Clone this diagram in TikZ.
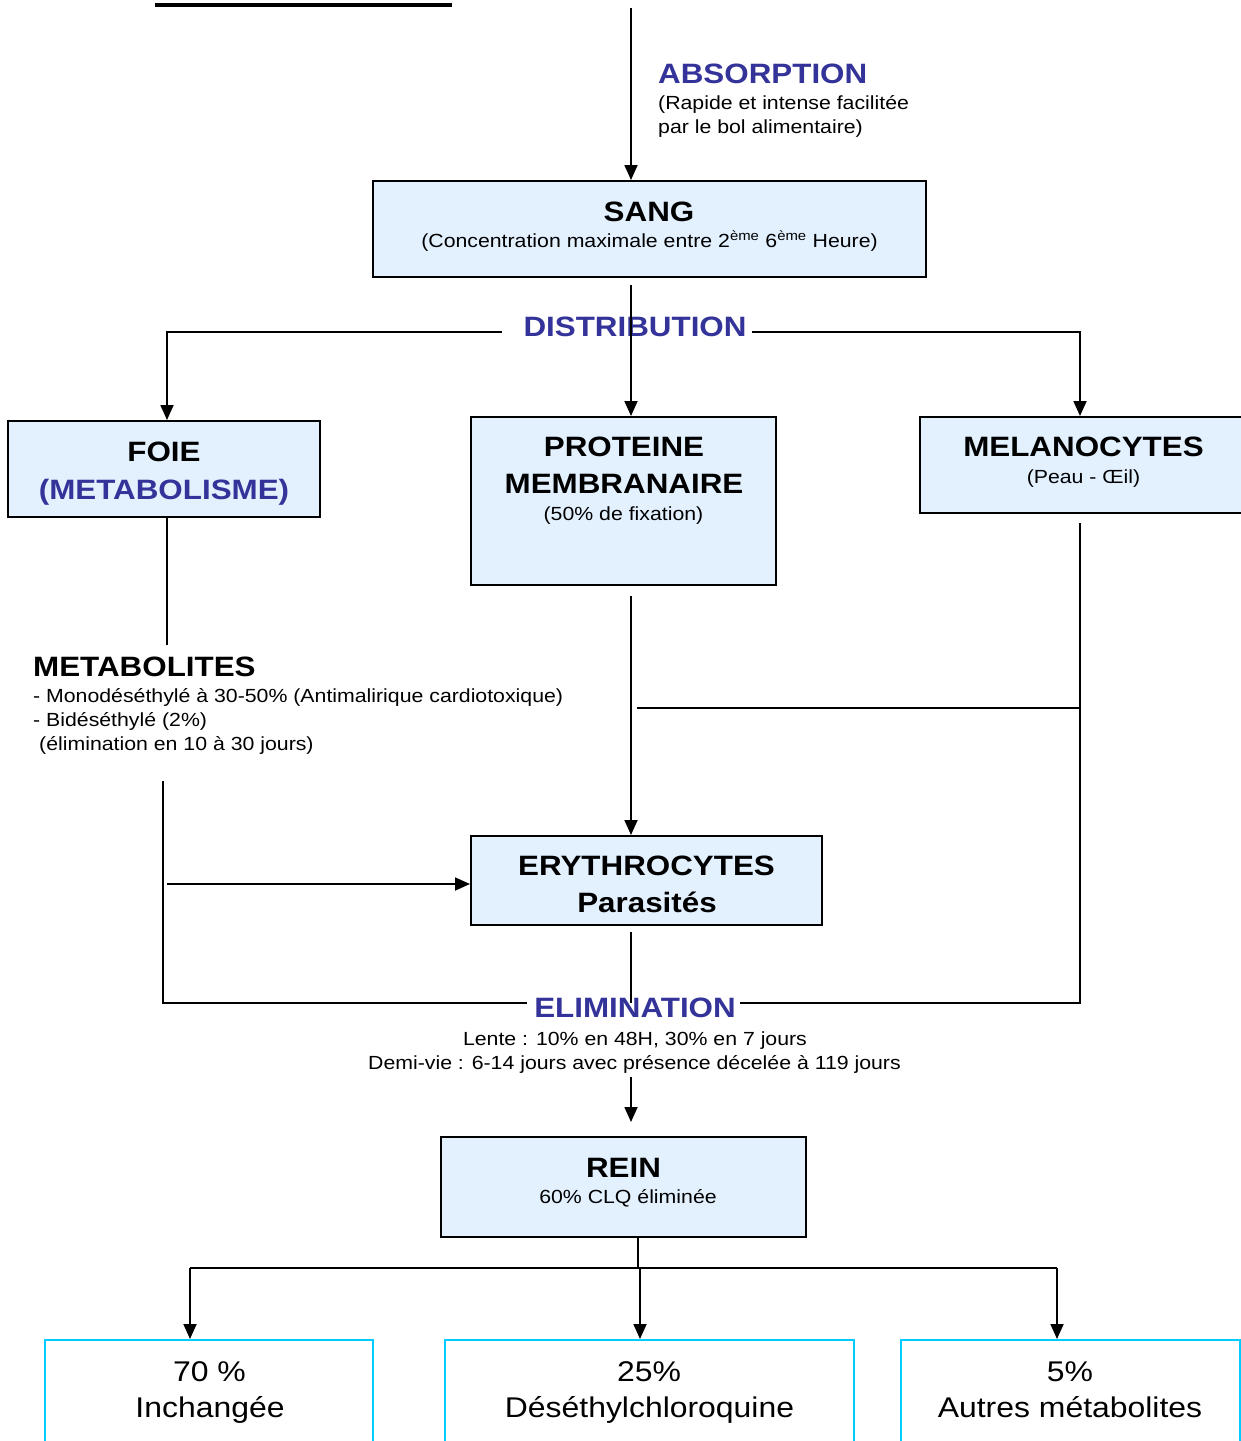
\documentclass[tikz,border=0pt]{standalone}
\usepackage{fontspec}
\setmainfont{Liberation Sans}[FakeStretch=1.12]
\usepackage{tikz}
\usetikzlibrary{arrows.meta, calc}

\definecolor{bleutitre}{RGB}{51,51,153}
\definecolor{fondbleu}{RGB}{227,241,255}
\definecolor{bordcyan}{RGB}{0,204,255}

\tikzset{
  titre/.style={font=\fontsize{28}{32}\selectfont\bfseries, inner sep=0pt, anchor=base},
  titrebleu/.style={titre, text=bleutitre},
  petit/.style={font=\fontsize{19}{23}\selectfont, inner sep=0pt, anchor=base},
  grand/.style={font=\fontsize{28.5}{32}\selectfont, inner sep=0pt, anchor=base},
  boite/.style={draw, line width=2pt, fill=fondbleu, inner sep=0pt},
  boitecyan/.style={draw=bordcyan, line width=2pt, fill=white, inner sep=0pt},
  trait/.style={line width=1.8pt},
  fleche/.style={trait, -{Triangle[length=15pt,width=13pt]}}
}

\begin{document}
\begin{tikzpicture}[x=1pt, y=-1pt]
    \useasboundingbox (0,0) rectangle (1241,1441);
    \clip (0,0) rectangle (1241,1441);

    % boites
    \node[boite, minimum width=553pt, minimum height=96pt] (sang) at (649.5,229) {};
    \node[boite, minimum width=312pt, minimum height=96pt] (foie) at (164,469) {};
    \node[boite, minimum width=305pt, minimum height=168pt] (proteine) at (623.5,501) {};
    \node[boite, minimum width=328pt, minimum height=96pt] (melano) at (1084,465) {};
    \node[boite, minimum width=351pt, minimum height=89pt] (erythro) at (646.5,880.5) {};
    \node[boite, minimum width=365pt, minimum height=100pt] (rein) at (623.5,1187) {};
    \node[boitecyan, minimum width=328pt, minimum height=120pt] (inchangee) at (209,1400) {};
    \node[boitecyan, minimum width=409pt, minimum height=120pt] (deseth) at (649.5,1400) {};
    \node[boitecyan, minimum width=339pt, minimum height=120pt] (autres) at (1070.5,1400) {};

    % colonnes des traits
    \coordinate (haut) at (631,8);
    \coordinate (distG) at (502,332);
    \coordinate (distD) at (752,332);
    \coordinate (colG) at (167,332);
    \coordinate (colM) at (631,332);
    \coordinate (colD) at (1080,332);
    \coordinate (elimG) at (527,1003);
    \coordinate (elimD) at (740,1003);
    \coordinate (renvoi) at (167,884);
    \coordinate (partage) at (638,1268);
    \coordinate (partG) at (190,1268);
    \coordinate (partM) at (640,1268);
    \coordinate (partD) at (1057,1268);

    % textes
    \draw[line width=3.5pt] (155,5) -- (452,5);
    \node[titrebleu, anchor=base west] (absorption) at (658,83) {ABSORPTION};
    \node[petit, anchor=base west] (abs1) at (658,109) {(Rapide et intense facilitée};
    \node[petit, anchor=base west] (abs2) at (658,133) {par le bol alimentaire)};

    \node[titre] (sangT) at (649,221) {SANG};
    \node[petit] (sangS) at (649.5,247) {(Concentration maximale entre 2\textsuperscript{ème} 6\textsuperscript{ème} Heure)};

    \node[titrebleu] (distribution) at (635,336) {DISTRIBUTION};

    \node[titre] (foieT) at (164,461) {FOIE};
    \node[titrebleu] (foieS) at (164,499) {(METABOLISME)};

    \node[titre] (protT) at (624,456) {PROTEINE};
    \node[titre] (protM) at (624,493) {MEMBRANAIRE};
    \node[petit] (protS) at (623.5,520) {(50\% de fixation)};

    \node[titre] (melanoT) at (1083.5,456) {MELANOCYTES};
    \node[petit] (melanoS) at (1083.5,483) {(Peau - Œil)};

    \node[titre, anchor=base west] (metab) at (33,676) {METABOLITES};
    \node[petit, anchor=base west] (metab1) at (33,702) {- Monodéséthylé à 30-50\% (Antimalirique cardiotoxique)};
    \node[petit, anchor=base west] (metab2) at (33,726) {- Bidéséthylé (2\%)};
    \node[petit, anchor=base west] (metab3) at (39,750) {(élimination en 10 à 30 jours)};

    \node[titre] (erythroT) at (646.5,875) {ERYTHROCYTES};
    \node[titre] (erythroS) at (647,912) {Parasités};

    \node[titrebleu] (elimination) at (635,1017) {ELIMINATION};
    \node[petit] (lente) at (635,1045) {Lente : 10\% en 48H, 30\% en 7 jours};
    \node[petit] (demivie) at (634.5,1069) {Demi-vie : 6-14 jours avec présence décelée à 119 jours};

    \node[titre] (reinT) at (623.5,1177) {REIN};
    \node[petit] (reinS) at (628,1203) {60\% CLQ éliminée};

    \node[grand] (pc70) at (209.5,1381) {70 \%};
    \node[grand] (inchT) at (210,1417) {Inchangée};
    \node[grand] (pc25) at (649,1381) {25\%};
    \node[grand] (desethT) at (649.5,1417) {Déséthylchloroquine};
    \node[grand] (pc5) at (1070,1381) {5\%};
    \node[grand] (autresT) at (1070,1417) {Autres métabolites};

    % absorption et distribution
    \draw[fleche] (haut) -- (haut |- sang.north);
    \draw[fleche] ([yshift=-7pt]colM |- sang.south) -- (colM |- proteine.north);
    \draw[fleche] (distG) -- (colG) -- (colG |- foie.north);
    \draw[fleche] (distD) -- (colD) -- (colD |- melano.north);

    % foie et metabolites
    \draw[trait] (colG |- foie.south) -- (167,645);
    \draw[trait] (163,781) -- (163,1003) -- (elimG);
    \draw[fleche] (renvoi) -- (renvoi -| erythro.west);

    % proteine et melanocytes
    \draw[fleche] (631,596) -- (colM |- erythro.north);
    \draw[trait] (1080,523) -- (1080,1003) -- (elimD);
    \draw[trait] (1080,708) -- (637,708);

    % elimination
    \draw[trait] (631,932) -- (631,1003);
    \draw[fleche, shorten >=14pt] (631,1077) -- (colM |- rein.north);

    % rein
    \draw[trait] (partage |- rein.south) -- (partage);
    \draw[trait] (partG) -- (partD);
    \draw[fleche] (partG) -- (partG |- inchangee.north);
    \draw[fleche] (partM) -- (partM |- deseth.north);
    \draw[fleche] (partD) -- (partD |- autres.north);
\end{tikzpicture}
\end{document}
